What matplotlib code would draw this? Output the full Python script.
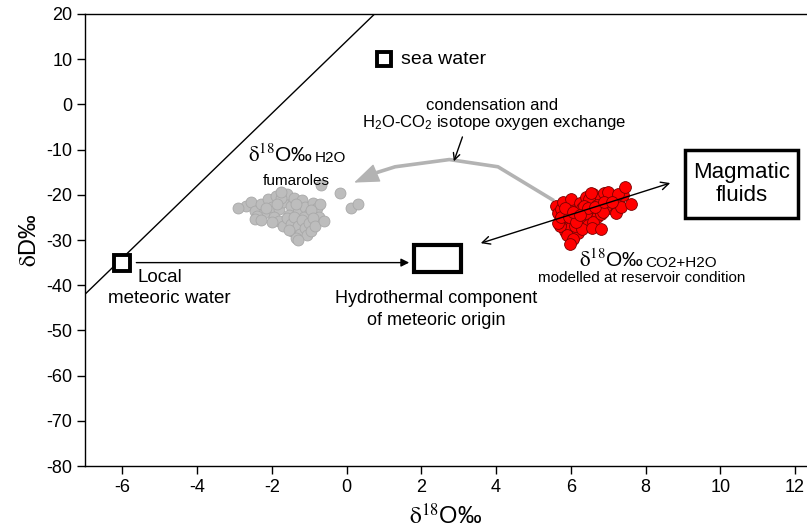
import matplotlib
matplotlib.use("Agg")
import matplotlib.pyplot as plt
import matplotlib.patches as mpatches

plt.rcParams['font.family'] = ['Liberation Sans', 'DejaVu Sans']
plt.rcParams['mathtext.fontset'] = 'stix'
plt.rcParams['axes.unicode_minus'] = False

# --- data ---
# fumarole H2O samples (grey)
fum_x = [-2.7, -2.55, -2.45, -2.3, -2.2, -2.1, -2.0, -1.9, -1.8, -1.7, -1.6, -1.5, -1.4, -1.3, -1.2,
         -1.1, -1.0, -0.9, -0.8, -0.7, -2.4, -2.15, -1.95, -1.75, -1.55, -1.35, -1.15, -0.95, -0.75, -1.85,
         -1.8, -1.7, -1.6, -1.5, -1.45, -1.4, -1.3, -1.25, -1.2, -1.1, -1.05, -1.0, -0.95, -0.9, -0.85,
         -1.35, -1.3, -1.55, -2.0, -2.45, -2.3, -1.75,
         -0.68, -0.18, 0.12, 0.3, -0.6, -2.9]
fum_y = [-22.5, -21.5, -23.5, -22.0, -24.0, -21.0, -22.8, -20.2, -23.2, -21.6, -19.8, -22.4, -20.6, -23.8, -21.2,
         -22.6, -24.2, -21.8, -23.0, -22.0, -24.6, -23.0, -24.8, -20.8, -24.4, -22.0, -24.8, -23.4, -25.0, -22.0,
         -25.8, -27.0, -25.2, -26.4, -28.0, -24.8, -26.8, -28.6, -25.6, -27.4, -29.0, -26.2, -28.0, -25.2, -27.0,
         -29.6, -30.0, -27.8, -26.0, -25.4, -25.6, -19.4,
         -17.8, -19.6, -22.9, -22.0, -25.8, -22.9]

# modelled CO2+H2O at reservoir condition (red)
res_x = [5.6, 5.65, 5.7, 5.75, 5.8, 5.85, 5.9, 5.95, 6.0, 6.05, 6.1, 6.15, 6.2, 5.7, 5.8, 5.9, 6.0, 6.1, 6.2, 5.65,
         6.25, 6.3, 6.35, 6.4, 6.45, 6.5, 6.55, 6.6, 6.65, 6.7, 6.75, 6.8, 6.3, 6.4, 6.5, 6.6, 6.7, 6.8, 6.35, 6.55,
         6.9, 7.0, 7.05, 7.1, 7.15, 7.2, 7.3, 7.35, 7.4, 6.95, 7.0, 7.25, 6.85,
         5.75, 5.95, 6.15, 6.45, 6.65, 6.9, 7.1, 5.85, 6.05, 6.25,
         7.45, 7.6, 6.58, 6.82, 6.07, 5.98]
res_y = [-22.5, -24.0, -25.5, -23.2, -26.8, -28.0, -24.6, -22.0, -27.2, -29.6, -25.8, -23.5, -28.4, -27.0, -21.5,
         -29.0, -21.0, -26.9, -24.6, -26.2,
         -21.8, -23.0, -25.2, -20.5, -26.6, -22.6, -24.0, -19.8, -21.4, -25.0, -23.2, -20.8, -27.5, -24.0, -21.0,
         -26.0, -22.2, -24.3, -22.4, -19.6,
         -19.5, -21.2, -23.0, -20.2, -22.0, -24.0, -21.0, -22.8, -20.0, -22.5, -19.3, -19.8, -23.8,
         -24.8, -25.0, -26.0, -23.0, -22.8, -21.5, -21.5, -23.0, -23.8, -24.5,
         -18.3, -22.0, -27.3, -27.6, -29.8, -30.8]

seawater = (1.0, 10.0)
local_meteoric = (-6.0, -35.0)
mwl_x = [-7.0, 0.75]
mwl_y = [-42.0, 20.0]

# grey path of the condensation / exchange arrow (ends at the arrow head base)
path_x = [5.55, 4.05, 2.75, 1.3, 0.8]
path_y = [-21.3, -13.8, -12.2, -13.8, -15.1]
path_tip = (0.2, -17.3)

xticks = [-6, -4, -2, 0, 2, 4, 6, 8, 10, 12]
yticks = [20, 10, 0, -10, -20, -30, -40, -50, -60, -70, -80]

fig = plt.figure(figsize=(8.07, 5.32), dpi=100)
ax = fig.add_axes([0.1053, 0.124, 0.8947, 0.8497])

ax.set_xlim(-7, 12.32)
ax.set_ylim(-80, 20)

# meteoric water line
ax.plot(mwl_x, mwl_y, color='black', lw=1, zorder=2)

# scatter clusters
ax.scatter(fum_x, fum_y, s=62, facecolor='#bdbdbd', edgecolor='#a8a8a8', lw=0.6, zorder=3)
ax.scatter(res_x, res_y, s=72, facecolor='#ff0000', edgecolor='#7a0000', lw=0.6, zorder=3)

# squares
ax.plot(*seawater, marker='s', ms=10, mfc='white', mec='black', mew=2.8, zorder=5)
ax.plot(*local_meteoric, marker='s', ms=11, mfc='white', mec='black', mew=2.8, zorder=5)

# hydrothermal component box
ax.add_patch(mpatches.Rectangle((1.8, -37.1), 1.25, 6.0, fill=False, lw=3, ec='black', zorder=4))
# magmatic fluids box
ax.add_patch(mpatches.Rectangle((9.05, -25.1), 3.02, 15.0, fill=False, lw=2.5, ec='black', zorder=4,
                                clip_on=False))
ax.text(10.57, -17.6, 'Magmatic\nfluids', ha='center', va='center', fontsize=16, linespacing=1.15)

# arrow from local meteoric water to hydrothermal component
ax.annotate('', xy=(1.75, -35), xytext=(-5.7, -35),
            arrowprops=dict(arrowstyle='-|>', color='black', lw=1, mutation_scale=12), zorder=4)

# double arrow through reservoir cluster
ax.annotate('', xy=(8.66, -17.4), xytext=(3.59, -30.7),
            arrowprops=dict(arrowstyle='<->', color='black', lw=1, mutation_scale=14,
                            shrinkA=0, shrinkB=0), zorder=6)

# grey condensation arrow
ax.plot(path_x, path_y, color='#b3b3b3', lw=2.6, solid_capstyle='butt', zorder=2)
ax.annotate('', xy=path_tip, xytext=(1.0, -14.5),
            arrowprops=dict(arrowstyle='-|>,head_width=0.38,head_length=1.0', color='#b3b3b3',
                            lw=1, mutation_scale=16, shrinkA=0, shrinkB=0), zorder=2)

# pointer from annotation text to grey curve
ax.annotate('', xy=(2.87, -12.6), xytext=(3.1, -7.2),
            arrowprops=dict(arrowstyle='->', color='black', lw=1, mutation_scale=12,
                            shrinkA=0, shrinkB=0))

# texts
ax.text(1.45, 10, 'sea water', ha='left', va='center', fontsize=14)
ax.text(3.9, -0.2, 'condensation and', ha='center', va='center', fontsize=12)
ax.text(3.95, -4.1, r'H$\mathregular{_2}$O-CO$\mathregular{_2}$ isotope oxygen exchange',
        ha='center', va='center', fontsize=12)
ax.text(-5.6, -38.2, 'Local', ha='left', va='center', fontsize=13.5)
ax.text(-4.75, -42.9, 'meteoric water', ha='center', va='center', fontsize=13.5)
ax.text(2.4, -43.0, 'Hydrothermal component', ha='center', va='center', fontsize=13)
ax.text(2.4, -47.8, 'of meteoric origin', ha='center', va='center', fontsize=13)

ax.text(-0.9, -12.7, r'$\mathrm{\delta^{18}}$O‰', ha='right', va='baseline', fontsize=15)
ax.text(-0.85, -12.7, 'H2O', ha='left', va='baseline', fontsize=11)
ax.text(-1.35, -17.0, 'fumaroles', ha='center', va='center', fontsize=11)

ax.text(7.95, -35.9, r'$\mathrm{\delta^{18}}$O‰', ha='right', va='baseline', fontsize=15)
ax.text(8.0, -35.9, 'CO2+H2O', ha='left', va='baseline', fontsize=11)
ax.text(7.9, -38.3, 'modelled at reservoir condition', ha='center', va='center', fontsize=11)

# axes styling
ax.spines['right'].set_visible(False)
for s in ['left', 'bottom', 'top']:
    ax.spines[s].set_linewidth(1)
ax.set_xticks(xticks)
ax.set_yticks(yticks)
ax.tick_params(direction='out', length=6, width=1, labelsize=13, pad=3)

ax.set_xlabel(r'$\mathrm{\delta^{18}}$O‰', fontsize=17, labelpad=6)
ax.set_ylabel(r'$\mathrm{\delta}$D‰', fontsize=17, labelpad=4)

fig.savefig('out.png', dpi=100)
